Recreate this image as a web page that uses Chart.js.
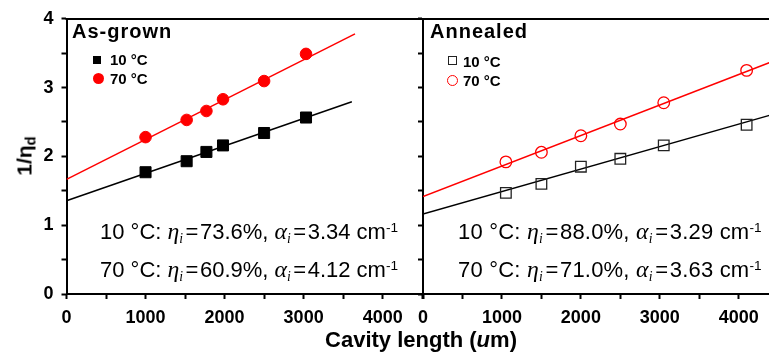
<!DOCTYPE html>
<html><head><meta charset="utf-8">
<script src="https://cdn.jsdelivr.net/npm/chart.js@4/dist/chart.umd.min.js"></script>
<style>
html,body{margin:0;padding:0;width:769px;height:354px;overflow:hidden;background:#fff;}
#wrap{position:relative;width:769px;height:354px;overflow:hidden;font-family:"Liberation Sans",Arial,sans-serif;color:#000;}
canvas{position:absolute;top:0;}
.t{position:absolute;white-space:nowrap;line-height:1;}
.title{font-size:20px;font-weight:bold;}
.ptitle{letter-spacing:1px;}
.leg{font-size:15px;font-weight:bold;}
.ann{font-size:22px;}
.gr{font-family:"Liberation Serif","DejaVu Serif",serif;font-style:italic;font-size:1.08em;}
.sb{position:relative;top:0.32em;font-size:0.62em;font-family:"Liberation Serif",serif;font-style:italic;margin-right:1px;}
.sp{position:relative;top:-0.45em;font-size:0.62em;}
.eq{margin:0 1.5px;}
.mk{position:absolute;box-sizing:border-box;}
</style></head>
<body><div id="wrap">
<canvas id="cA" width="431" height="354" style="left:0"></canvas>
<canvas id="cB" width="387" height="354" style="left:400px"></canvas>
<div id="texts"></div>
</div>
<script>
// ---- data ----
const panelTitles = ['As-grown', 'Annealed'];
const tempLabels = ['10 °C', '70 °C'];

const grownLen = [1000, 1520, 1770, 1980, 2500, 3030];
const grown10 = [1.77, 1.93, 2.065, 2.16, 2.34, 2.565];
const grown70 = [2.28, 2.53, 2.66, 2.83, 3.095, 3.49];
const grownFitLen10 = [0, 3610];
const grownFit10 = [1.355, 2.795];
const grownFitLen70 = [0, 3650];
const grownFit70 = [1.667, 3.78];

const annLen = [1050, 1500, 2000, 2500, 3050, 4100];
const ann10 = [1.47, 1.60, 1.85, 1.965, 2.16, 2.46];
const ann70 = [1.92, 2.06, 2.30, 2.47, 2.78, 3.25];
const annFitLen = [0, 4500];
const annFit10 = [1.163, 2.633];
const annFit70 = [1.416, 3.413];

const grownEta = ['73.6%', '60.9%'];
const grownAlpha = ['3.34', '4.12'];
const annEta = ['88.0%', '71.0%'];
const annAlpha = ['3.29', '3.63'];

const xMax = 4500;
const yMin = 0, yMax = 4;

// ---- helpers ----
const pts = (xs, ys) => xs.map((x, i) => ({x, y: ys[i]}));
Chart.defaults.font.family = '"Liberation Sans", Arial, sans-serif';

const topBorder = {
  id: 'topBorder',
  afterDraw(chart) {
    const {ctx, chartArea} = chart;
    ctx.save();
    ctx.strokeStyle = '#000';
    ctx.lineWidth = 2;
    ctx.beginPath();
    const y = Math.round(chartArea.top);
    ctx.moveTo(chartArea.left - 1, y);
    ctx.lineTo(chartArea.right + 1, y);
    ctx.stroke();
    ctx.restore();
  }
};

function makeChart(id, datasets, yWidth, showYLabels) {
  return new Chart(document.getElementById(id), {
    type: 'scatter',
    data: {datasets},
    options: {
      responsive: false, animation: false, events: [],
      layout: {padding: {left: 0, right: 0, top: 16.5, bottom: 0}},
      plugins: {legend: {display: false}, tooltip: {enabled: false}},
      scales: {
        x: {
          type: 'linear', min: 0, max: xMax,
          afterFit: s => { s.height = 60; },
          grid: {display: true, drawOnChartArea: false, drawTicks: true, tickLength: 5, tickWidth: 2, tickColor: '#000'},
          border: {display: true, color: '#000', width: 2},
          ticks: {stepSize: 500, autoSkip: false, maxRotation: 0, color: '#000', padding: 8,
            font: {size: 18, weight: 'bold'},
            callback: v => (v % 1000 === 0 ? String(v) : '')}
        },
        y: {
          type: 'linear', min: yMin, max: yMax,
          afterFit: s => { s.width = yWidth; },
          grid: {display: true, drawOnChartArea: false, drawTicks: true, tickLength: 5, tickWidth: 2, tickColor: '#000'},
          border: {display: true, color: '#000', width: 2},
          ticks: {stepSize: 0.5, autoSkip: false, color: '#000', padding: 8,
            font: {size: 18, weight: 'bold'},
            callback: v => (showYLabels && Number.isInteger(v) ? String(v) : '')}
        }
      }
    },
    plugins: [topBorder]
  });
}

makeChart('cA', [
  {label: tempLabels[0], data: pts(grownLen, grown10), pointStyle: 'rect', pointRadius: 7.8, backgroundColor: '#000', borderColor: '#000', borderWidth: 1},
  {label: tempLabels[1], data: pts(grownLen, grown70), pointStyle: 'circle', pointRadius: 5.8, backgroundColor: '#ff0000', borderColor: '#ff0000', borderWidth: 1},
  {label: 'fit10', data: pts(grownFitLen10, grownFit10), showLine: true, pointRadius: 0, borderColor: '#000', borderWidth: 1.5},
  {label: 'fit70', data: pts(grownFitLen70, grownFit70), showLine: true, pointRadius: 0, borderColor: '#ff0000', borderWidth: 1.5}
], 66.5, true);

makeChart('cB', [
  {label: tempLabels[0], data: pts(annLen, ann10), pointStyle: 'rect', pointRadius: 7.5, backgroundColor: 'rgba(0,0,0,0)', borderColor: '#222', borderWidth: 1.3},
  {label: tempLabels[1], data: pts(annLen, ann70), pointStyle: 'circle', pointRadius: 5.8, backgroundColor: 'rgba(0,0,0,0)', borderColor: '#ff0000', borderWidth: 1.3},
  {label: 'fit10', data: pts(annFitLen, annFit10), showLine: true, pointRadius: 0, borderColor: '#000', borderWidth: 1.5},
  {label: 'fit70', data: pts(annFitLen, annFit70), showLine: true, pointRadius: 0, borderColor: '#ff0000', borderWidth: 1.5}
], 23, false);

// ---- text overlay ----
const T = document.getElementById('texts');
function add(html, cls, left, top, extra) {
  const d = document.createElement('div');
  d.className = 't ' + cls;
  d.style.left = left + 'px';
  d.style.top = top + 'px';
  if (extra) Object.assign(d.style, extra);
  d.innerHTML = html;
  T.appendChild(d);
  return d;
}
function mark(cx, cy, size, shape, filled, color) {
  const m = document.createElement('div');
  m.className = 'mk';
  m.style.left = (cx - size / 2) + 'px';
  m.style.top = (cy - size / 2) + 'px';
  m.style.width = size + 'px';
  m.style.height = size + 'px';
  if (shape === 'circle') m.style.borderRadius = '50%';
  if (filled) m.style.background = color; else m.style.border = '1.3px solid ' + color;
  T.appendChild(m);
}
// panel titles
add(panelTitles[0], 'title ptitle', 72, 20.5);
add(panelTitles[1], 'title ptitle', 430, 20.5);
// legends
mark(97, 59.5, 8, 'rect', true, '#000');
mark(98, 78.5, 11, 'circle', true, '#ff0000');
add(tempLabels[0], 'leg', 110, 52);
add(tempLabels[1], 'leg', 110, 71);
mark(452.5, 60.5, 8.5, 'rect', false, '#222');
mark(452.5, 80, 11, 'circle', false, '#ff0000');
add(tempLabels[0], 'leg', 463, 53.5);
add(tempLabels[1], 'leg', 463, 72.5);
// annotations
function annLine(temp, eta, alpha) {
  return temp + ': <span class="gr">η</span><span class="sb">i</span><span class="eq">=</span>' + eta +
    ', <span class="gr">α</span><span class="sb">i</span><span class="eq">=</span>' + alpha + ' cm<span class="sp">-1</span>';
}
add(annLine(tempLabels[0], grownEta[0], grownAlpha[0]), 'ann', 100, 219.5);
add(annLine(tempLabels[1], grownEta[1], grownAlpha[1]), 'ann', 100, 257.5);
add(annLine(tempLabels[0], annEta[0], annAlpha[0]), 'ann', 458, 219.5, {letterSpacing: '0.2px'});
add(annLine(tempLabels[1], annEta[1], annAlpha[1]), 'ann', 458, 257.5, {letterSpacing: '0.2px'});
// axis titles
add('1/η<span style="font-size:0.7em;position:relative;top:0.3em">d</span>', 'title',
    24, 156, {transform: 'translate(-50%,-50%) rotate(-90deg)', fontSize: '21px'});
add('Cavity length (<i>u</i>m)', 'title', 421, 329, {transform: 'translateX(-50%)', fontSize: '22px'});
</script>
</body></html>
